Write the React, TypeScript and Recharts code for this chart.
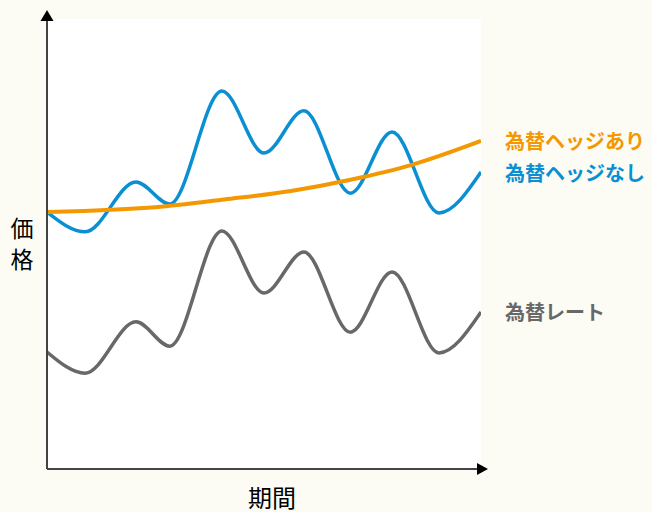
import React from 'react';
import { LineChart, Line, XAxis, YAxis, CartesianGrid, LabelList } from 'recharts';

// x positions (percent of period) for the fluctuating series
const periodFx = [0, 8.8, 20.5, 28.3, 40.3, 50, 59.2, 69.9, 79.5, 90.3, 100];
// 為替ヘッジなし (unhedged)
const unhedged = [57.1, 52.7, 63.8, 58.9, 84.0, 70.2, 79.6, 61.3, 74.9, 56.9, 66.0];
// 為替レート (exchange rate)
const fxRate = [26.0, 21.3, 32.7, 27.3, 52.9, 39.1, 48.2, 30.4, 43.8, 25.8, 34.9];
// x positions for the hedged series
const periodHedge = [0, 27.4, 40.8, 56.2, 70.5, 84.1, 100];
// 為替ヘッジあり (hedged)
const hedged = [57.1, 58.4, 59.9, 61.8, 64.4, 67.6, 72.9];

const seriesNames = ['為替ヘッジあり', '為替ヘッジなし', '為替レート'];
const axisTitles = { x: '期間', y: '価格' };

const COLORS = { hedged: '#f39800', unhedged: '#0a8fd2', fx: '#686868', axis: '#444444' };
const FONT = '"Noto Sans CJK JP", "Noto Sans", sans-serif';

const build = (xs: number[], ys: number[], tag: string) =>
  xs.map((x, i) => ({ x, y: ys[i], tag: i === xs.length - 1 ? tag : undefined }));

const hedgedData = build(periodHedge, hedged, seriesNames[0]);
const unhedgedData = build(periodFx, unhedged, seriesNames[1]);
const fxData = build(periodFx, fxRate, seriesNames[2]);

const makeEndLabel = (color: string) => (p: any) => {
  if (!p || !p.value) return null;
  const x = p.x ?? p.viewBox?.x;
  const y = p.y ?? p.viewBox?.y;
  return (
    <text x={x + 24} y={y} dominantBaseline="central" fill={color} fontSize={20} fontWeight={700} fontFamily={FONT}>
      {p.value}
    </text>
  );
};

const XAxisDecor = (props: any) => {
  const vb = props.viewBox || {};
  const right = vb.x + vb.width;
  const y = vb.y;
  return (
    <g>
      <polygon points={`${right - 4},${y - 6} ${right + 7},${y} ${right - 4},${y + 6}`} fill="#000" />
      <text x={vb.x + vb.width / 2 + 8} y={y + 27} dominantBaseline="central" textAnchor="middle" fontSize={24} fill="#000" fontFamily={FONT}>
        {axisTitles.x}
      </text>
    </g>
  );
};

const YAxisDecor = (props: any) => {
  const vb = props.viewBox || {};
  const x = vb.x + vb.width;
  const top = vb.y;
  const chars = axisTitles.y.split('');
  return (
    <g>
      <line x1={x} x2={x} y1={top + 2} y2={top - 2} stroke={COLORS.axis} strokeWidth={2} />
      <polygon points={`${x - 6.5},${top + 2} ${x},${top - 9} ${x + 6.5},${top + 2}`} fill="#000" />
      {chars.map((c, i) => (
        <text key={i} x={22} y={227 + i * 31} dominantBaseline="central" textAnchor="middle" fontSize={23} fill="#000" fontFamily={FONT}>
          {c}
        </text>
      ))}
    </g>
  );
};

export default function App() {
  return (
    <div style={{ position: 'absolute', left: 0, top: 0, width: 652, height: 512, background: '#fcfcf4' }}>
      <LineChart width={652} height={512} margin={{ top: 19, right: 171, bottom: 42, left: 46 }}>
        <CartesianGrid fill="#ffffff" stroke="none" horizontal={false} vertical={false} />
        <XAxis
          xAxisId="t"
          type="number"
          dataKey="x"
          domain={[0, 100]}
          allowDataOverflow
          tick={false}
          tickLine={false}
          height={1}
          axisLine={{ stroke: COLORS.axis, strokeWidth: 2 }}
          label={<XAxisDecor />}
        />
        <YAxis
          yAxisId="v"
          type="number"
          dataKey="y"
          domain={[0, 100]}
          allowDataOverflow
          tick={false}
          tickLine={false}
          width={1}
          axisLine={{ stroke: COLORS.axis, strokeWidth: 2 }}
          label={<YAxisDecor />}
        />
        <Line xAxisId="t" yAxisId="v" data={fxData} dataKey="y" type="monotone" stroke={COLORS.fx} strokeWidth={3.5} dot={false} isAnimationActive={false}>
          <LabelList dataKey="tag" content={makeEndLabel(COLORS.fx)} />
        </Line>
        <Line xAxisId="t" yAxisId="v" data={unhedgedData} dataKey="y" type="monotone" stroke={COLORS.unhedged} strokeWidth={3.5} dot={false} isAnimationActive={false}>
          <LabelList dataKey="tag" content={makeEndLabel(COLORS.unhedged)} />
        </Line>
        <Line xAxisId="t" yAxisId="v" data={hedgedData} dataKey="y" type="monotone" stroke={COLORS.hedged} strokeWidth={4} dot={false} isAnimationActive={false}>
          <LabelList dataKey="tag" content={makeEndLabel(COLORS.hedged)} />
        </Line>
      </LineChart>
    </div>
  );
}
